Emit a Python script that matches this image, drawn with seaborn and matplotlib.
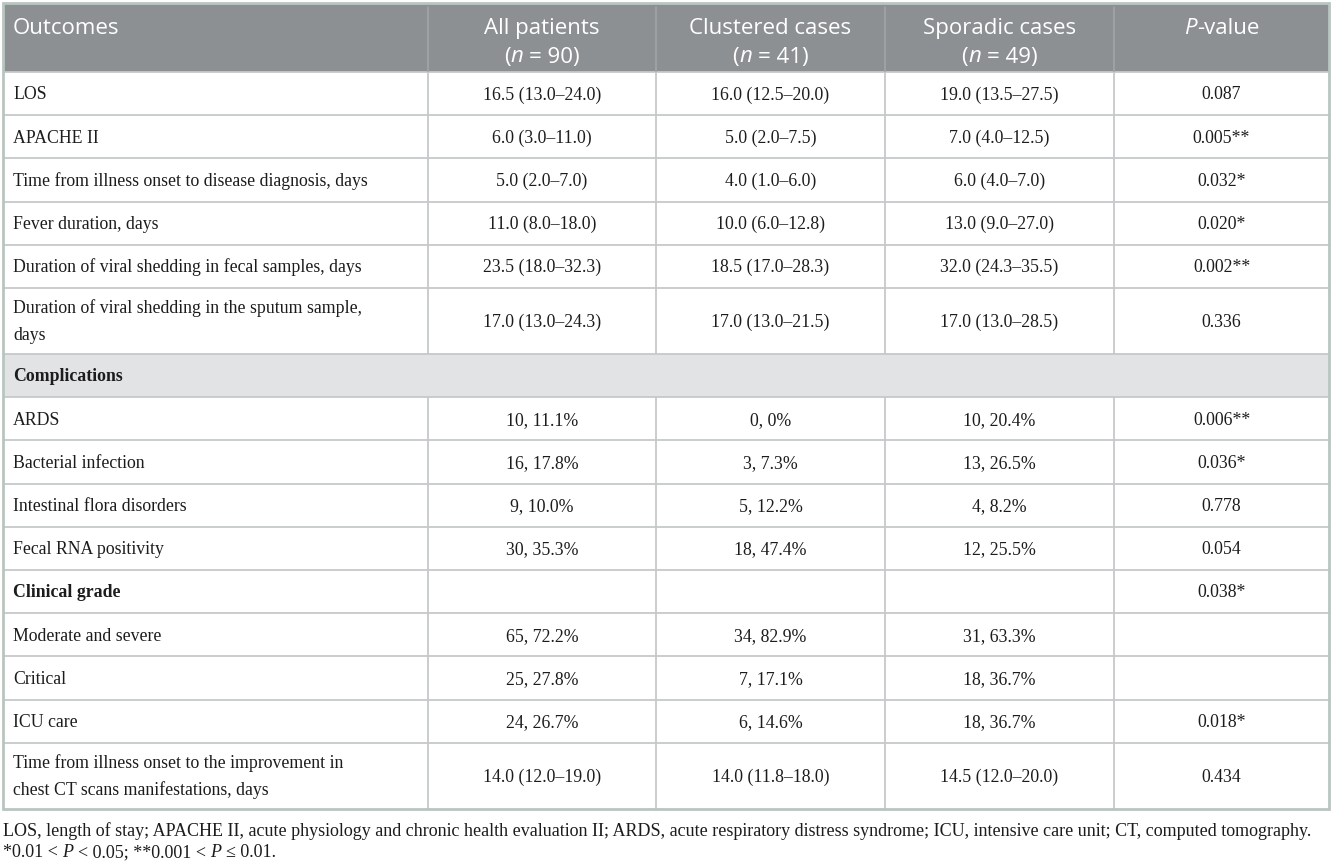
import matplotlib
matplotlib.use("Agg")
import numpy as np
import pandas as pd
import seaborn as sns
import matplotlib.pyplot as plt
from matplotlib.patches import Rectangle
from matplotlib.font_manager import FontProperties

# ---------------- data ----------------
outcomes = [
    ["LOS"],
    ["APACHE II"],
    ["Time from illness onset to disease diagnosis, days"],
    ["Fever duration, days"],
    ["Duration of viral shedding in fecal samples, days"],
    ["Duration of viral shedding in the sputum sample,", "days"],
    ["Complications"],
    ["ARDS"],
    ["Bacterial infection"],
    ["Intestinal flora disorders"],
    ["Fecal RNA positivity"],
    ["Clinical grade"],
    ["Moderate and severe"],
    ["Critical"],
    ["ICU care"],
    ["Time from illness onset to the improvement in", "chest CT scans manifestations, days"],
]
row_kind = ["plain"] * 6 + ["section"] + ["plain"] * 4 + ["bold"] + ["plain"] * 4

all_patients = ["16.5 (13.0–24.0)", "6.0 (3.0–11.0)", "5.0 (2.0–7.0)", "11.0 (8.0–18.0)",
                "23.5 (18.0–32.3)", "17.0 (13.0–24.3)", "", "10, 11.1%", "16, 17.8%",
                "9, 10.0%", "30, 35.3%", "", "65, 72.2%", "25, 27.8%", "24, 26.7%",
                "14.0 (12.0–19.0)"]
clustered = ["16.0 (12.5–20.0)", "5.0 (2.0–7.5)", "4.0 (1.0–6.0)", "10.0 (6.0–12.8)",
             "18.5 (17.0–28.3)", "17.0 (13.0–21.5)", "", "0, 0%", "3, 7.3%",
             "5, 12.2%", "18, 47.4%", "", "34, 82.9%", "7, 17.1%", "6, 14.6%",
             "14.0 (11.8–18.0)"]
sporadic = ["19.0 (13.5–27.5)", "7.0 (4.0–12.5)", "6.0 (4.0–7.0)", "13.0 (9.0–27.0)",
            "32.0 (24.3–35.5)", "17.0 (13.0–28.5)", "", "10, 20.4%", "13, 26.5%",
            "4, 8.2%", "12, 25.5%", "", "31, 63.3%", "18, 36.7%", "18, 36.7%",
            "14.5 (12.0–20.0)"]
p_values = ["0.087", "0.005**", "0.032*", "0.020*", "0.002**", "0.336", "",
            "0.006**", "0.036*", "0.778", "0.054", "0.038*", "", "", "0.018*", "0.434"]

first_header = "Outcomes"
group_names = ["All patients", "Clustered cases", "Sporadic cases"]
group_n = [90, 41, 49]
p_header = "-value"

footnote1 = ("LOS, length of stay; APACHE II, acute physiology and chronic health evaluation II; "
             "ARDS, acute respiratory distress syndrome; ICU, intensive care unit; CT, computed tomography.")
footnote2_runs = [("*0.01 < ", "r"), ("P", "i"), (" < 0.05; **0.001 < ", "r"), ("P", "i"), (" ≤ 0.01.", "r")]

# ---------------- style ----------------
sns.set_theme(style="white")
plt.rcParams["font.family"] = ["Liberation Serif", "DejaVu Serif"]

W, H = 1333, 865
fig = plt.figure(figsize=(W / 100, H / 100), dpi=100)
ax = fig.add_axes([0, 0, 1, 1])
ax.set_xlim(0, W)
ax.set_ylim(H, 0)
ax.axis("off")
renderer = fig.canvas.get_renderer()

HEAD_BG = "#8d9093"
SECTION_BG = "#e1e3e5"
GRID = "#c6c9ca"
HEAD_GRID = "#a4a7a9"
BORDER = "#b7c6bf"
TXT = "#1c1c1c"

body_size = 12.8
head_size = 16.0
serif = FontProperties(family=["Liberation Serif"], size=body_size)
serif_b = FontProperties(family=["Liberation Serif"], size=body_size, weight="bold")
sans = FontProperties(family=["Open Sans"], size=head_size)
sans_i = FontProperties(family=["Open Sans"], size=head_size, style="italic")

col_edges = [3, 428, 656, 885, 1114, 1329]
header_top, header_bot = 4, 72
single_h, double_h = 43.2, 66.0


def text_width(s, fp):
    t = ax.text(0, 0, s, fontproperties=fp)
    w = t.get_window_extent(renderer).width
    t.remove()
    return w


def draw_runs(x, y, runs, ha="left", color=TXT):
    """runs: list of (text, FontProperties); drawn on a common baseline."""
    pieces = []
    total = 0.0
    for s, fp in runs:
        sp = text_width("n n", fp) - text_width("nn", fp)
        lead = len(s) - len(s.lstrip(" "))
        trail = len(s) - len(s.rstrip(" "))
        core = s.strip(" ")
        w = text_width(core, fp) if core else 0.0
        pieces.append((lead * sp, core, fp, w, trail * sp))
        total += lead * sp + w + trail * sp
    if ha == "center":
        x = x - total / 2
    cx = x
    for lead, core, fp, w, trail in pieces:
        cx += lead
        if core:
            ax.text(cx, y, core, fontproperties=fp, color=color, ha="left", va="baseline")
        cx += w + trail


# ---------------- row geometry ----------------
n_lines = [len(o) for o in outcomes]
heights = [single_h if n == 1 else double_h for n in n_lines]
edges = np.concatenate([[header_bot], header_bot + np.cumsum(heights)])
table_bot = edges[-1]

# ---------------- backgrounds ----------------
ax.add_patch(Rectangle((col_edges[0], header_top), col_edges[-1] - col_edges[0],
                       header_bot - header_top, facecolor=HEAD_BG, edgecolor="none", zorder=0))
for i, kind in enumerate(row_kind):
    if kind == "section":
        ax.add_patch(Rectangle((col_edges[0], edges[i]), col_edges[-1] - col_edges[0],
                               edges[i + 1] - edges[i], facecolor=SECTION_BG,
                               edgecolor="none", zorder=0))

# ---------------- grid ----------------
for e in edges[:-1]:
    ax.plot([col_edges[0], col_edges[-1]], [e, e], color=GRID, lw=1.3, zorder=1,
            solid_capstyle="butt")
for xe in col_edges[1:-1]:
    ax.plot([xe, xe], [header_top + 3, header_bot], color=HEAD_GRID, lw=1.1, zorder=1)
    for i, kind in enumerate(row_kind):
        if kind != "section":
            ax.plot([xe, xe], [edges[i], edges[i + 1]], color=GRID, lw=1.3, zorder=1,
                    solid_capstyle="butt")
ax.add_patch(Rectangle((col_edges[0], header_top - 1.5), col_edges[-1] - col_edges[0],
                       table_bot - header_top + 1.5, facecolor="none", edgecolor=BORDER,
                       lw=2.0, zorder=3))

# ---------------- header text ----------------
hl1 = 34.0
hl2 = 62.5
draw_runs(13, hl1, [(first_header, sans)], color="white")
centers = [(col_edges[k] + col_edges[k + 1]) / 2 for k in range(len(col_edges) - 1)]
for k, (name, n) in enumerate(zip(group_names, group_n)):
    cx = centers[k + 1]
    draw_runs(cx, hl1, [(name, sans)], ha="center", color="white")
    draw_runs(cx, hl2, [("(", sans), ("n", sans_i), (f" = {n})", sans)], ha="center", color="white")
draw_runs(centers[4], hl1, [("P", sans_i), (p_header, sans)], ha="center", color="white")

# ---------------- body text ----------------
body_px = body_size * 100 / 72
line_gap = 27.0
base_off = 0.33 * body_px
for i in range(len(outcomes)):
    yc = (edges[i] + edges[i + 1]) / 2
    lines = outcomes[i]
    nl = len(lines)
    fp = serif_b if row_kind[i] in ("section", "bold") else serif
    for j, ln in enumerate(lines):
        yb = yc + (j - (nl - 1) / 2) * line_gap + base_off
        draw_runs(13, yb, [(ln, fp)])
    yb = yc + base_off
    for k, col in enumerate([all_patients, clustered, sporadic, p_values]):
        if col[i]:
            draw_runs(centers[k + 1], yb, [(col[i], serif)], ha="center")

# ---------------- footnotes ----------------
fn_size = 13.0
fn = FontProperties(family=["Liberation Serif"], size=fn_size)
fn_i = FontProperties(family=["Liberation Serif"], size=fn_size, style="italic")
draw_runs(3, 836, [(footnote1, fn)])
draw_runs(3, 857, [(s, fn if st == "r" else fn_i) for s, st in footnote2_runs])

fig.savefig("out.png", dpi=100, facecolor="white")
